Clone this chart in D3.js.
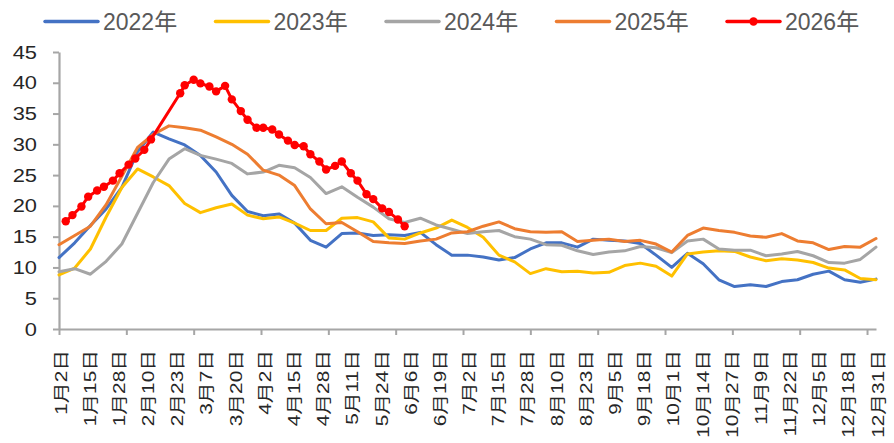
<!DOCTYPE html>
<html>
<head>
<meta charset="utf-8">
<script src="https://cdn.jsdelivr.net/npm/d3@7"></script>
<style>
  body { margin: 0; background: #fff; }
  text { font-family: "Liberation Sans", Arial, "Noto Sans CJK SC", sans-serif; }
</style>
</head>
<body>
<svg id="chart" width="894" height="443"></svg>
<script>
// x categories are days counted from 1月2日 (0) to 12月31日 (364)
const tickLabels = ["1月2日","1月15日","1月28日","2月10日","2月23日","3月7日","3月20日","4月2日",
  "4月15日","4月28日","5月11日","5月24日","6月6日","6月19日","7月2日","7月15日","7月28日",
  "8月10日","8月23日","9月5日","9月18日","10月1日","10月14日","10月27日","11月9日","11月22日",
  "12月5日","12月18日","12月31日"]
const years = ["2022年","2023年","2024年","2025年","2026年"]
const colors = ["#4472C4","#FFC000","#A5A5A5","#ED7D31","#FF0000"]

// weekly readings (one per week from 1月2日)
const v2022 = [11.6,14.0,16.8,19.5,23.0,28.8,32.0,30.9,29.9,28.2,25.5,21.7,19.1,18.4,18.7,17.2,14.4,13.3,15.5,15.6,
  15.2,15.3,15.2,15.7,13.7,12.0,12.0,11.7,11.2,11.6,13.0,14.0,14.0,13.3,14.6,14.4,14.3,13.9,12.0,10.0,
  12.3,10.6,8.0,6.9,7.2,6.9,7.7,8.0,8.9,9.4,8.0,7.6,8.1]
const v2023 = [8.8,9.9,13.0,18.2,23.0,26.0,24.7,23.3,20.4,18.9,19.7,20.3,18.5,17.9,18.2,17.2,16.0,16.0,18.0,18.1,
  17.4,14.8,14.6,15.6,16.4,17.7,16.5,14.9,12.0,10.9,9.0,9.8,9.3,9.4,9.1,9.2,10.3,10.7,10.2,8.6,
  12.2,12.5,12.7,12.6,11.7,11.1,11.4,11.2,10.8,9.9,9.6,8.2,8.0]
const v2024 = [9.3,9.8,8.9,11.0,13.8,18.8,23.8,27.6,29.3,28.2,27.6,26.9,25.2,25.5,26.6,26.2,24.6,22.0,23.1,21.4,
  19.8,17.9,17.3,18.0,16.9,16.2,15.5,15.8,16.0,15.0,14.6,13.7,13.6,12.7,12.1,12.5,12.7,13.4,13.2,12.4,
  14.3,14.6,13.0,12.8,12.8,11.9,12.2,12.6,11.9,10.8,10.7,11.3,13.3]
const v2025 = [13.7,15.2,16.7,20.2,24.8,29.5,31.6,33.0,32.7,32.3,31.2,30.0,28.4,25.8,25.0,23.3,19.5,17.1,17.3,15.8,
  14.2,14.0,13.9,14.3,14.6,15.6,15.8,16.7,17.4,16.3,15.8,15.7,15.8,14.2,14.4,14.6,14.2,14.4,13.8,12.5,
  15.2,16.4,16.0,15.7,15.1,14.9,15.5,14.3,14.0,12.9,13.4,13.3,14.7]

// 2026: twice-weekly readings, gap over the Spring Festival
const days2026 = [3,6,10,13,17,20,24,27,31,34,38,41,54,56,60,63,67,70,74,77,81,84,88,91,95,98,
  102,105,109,112,116,119,123,126,130,133,137,140,144,147,151,154]
const v2026 = [17.5,18.5,19.9,21.5,22.5,23.1,24.1,25.3,26.7,27.7,29.1,30.8,38.3,39.6,40.5,39.9,39.4,38.6,39.5,37.3,
  35.4,34.0,32.7,32.7,32.4,31.6,30.6,29.9,29.7,28.4,27.2,25.9,26.5,27.2,25.3,24.1,21.9,21.1,19.6,19.0,17.8,16.7]

const weekDays = d3.range(0, 365, 7)
const series = [v2022, v2023, v2024, v2025].map(vals => vals.map((v, i) => [weekDays[i], v]))
series.push(v2026.map((v, i) => [days2026[i], v]))

const svg = d3.select("#chart")
const x = d3.scaleLinear().domain([0, 364]).range([59, 876])
const y = d3.scaleLinear().domain([0, 45]).range([329, 52])
const axisColor = "#A6A6A6"

// y axis
const gy = svg.append("g").attr("transform", "translate(59,0)")
  .call(d3.axisLeft(y).tickValues(d3.range(0, 46, 5)).tickSize(6).tickSizeOuter(0))
gy.select(".domain").attr("stroke", axisColor).attr("stroke-width", 2.2)
gy.selectAll(".tick line").attr("stroke", axisColor).attr("stroke-width", 2)
gy.selectAll(".tick text").attr("x", 0).attr("text-anchor", "end")
  .attr("transform", "translate(-22,0) scale(1.15,1)")
  .attr("font-size", 19).attr("fill", "#262626")
  .style("font-family", '"Liberation Sans", Arial, sans-serif')

// x axis: ticks every 30 days, labels every 13 days
const gx = svg.append("g").attr("transform", "translate(0,329)")
  .call(d3.axisBottom(x).tickValues(d3.range(0, 365, 30)).tickSize(6).tickSizeOuter(0).tickFormat(""))
gx.select(".domain").attr("stroke", axisColor).attr("stroke-width", 2.2)
gx.selectAll(".tick line").attr("stroke", axisColor).attr("stroke-width", 2)

svg.append("g").selectAll("text").data(tickLabels).join("text")
  .attr("transform", (d, i) => `translate(${x(i * 13) + 2},350) rotate(-90) scale(1.3,1)`)
  .attr("text-anchor", "end").attr("dy", "0.35em")
  .attr("font-size", 16).attr("fill", "#262626")
  .text(d => d)

// lines
const line = d3.line().x(d => x(d[0])).y(d => y(d[1]))
svg.append("g").selectAll("path").data(series).join("path")
  .attr("d", line).attr("fill", "none")
  .attr("stroke", (d, i) => colors[i]).attr("stroke-width", 3)
  .attr("stroke-linejoin", "round").attr("stroke-linecap", "round")

svg.append("g").selectAll("circle").data(series[4]).join("circle")
  .attr("cx", d => x(d[0])).attr("cy", d => y(d[1])).attr("r", 4.2)
  .attr("fill", colors[4])

// legend
const lg = svg.append("g").selectAll("g").data(years).join("g")
  .attr("transform", (d, i) => `translate(${45 + i * 170.5},21.5)`)
lg.append("line").attr("x1", 0).attr("x2", 53)
  .attr("stroke", (d, i) => colors[i]).attr("stroke-width", 3.5).attr("stroke-linecap", "round")
lg.filter((d, i) => i === 4).append("circle").attr("cx", 26.5).attr("r", 4.2).attr("fill", colors[4])
lg.append("text").attr("x", 58).attr("dy", "0.36em")
  .attr("font-size", 23).attr("fill", "#595959").text(d => d)
</script>
</body>
</html>
